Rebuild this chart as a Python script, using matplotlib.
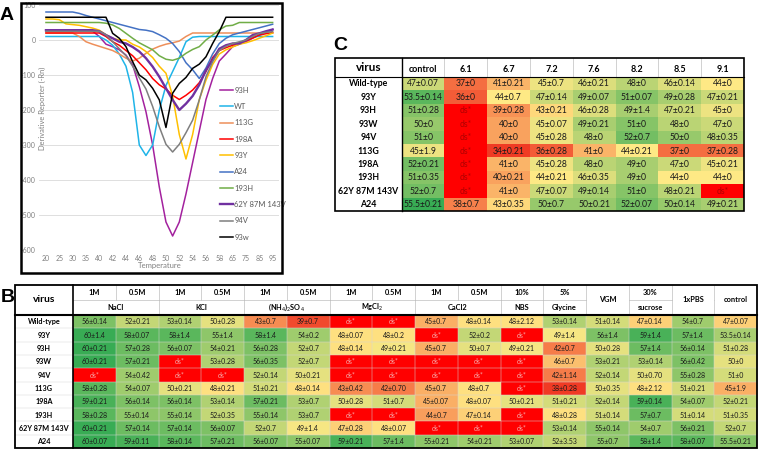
"""
Thermal shift figure: melt curves (A), buffer screen table (B), pH screen table (C)
"""

import numpy as np
import matplotlib
matplotlib.use("Agg")
import matplotlib.pyplot as plt
from matplotlib.colors import LinearSegmentedColormap, TwoSlopeNorm
from matplotlib.patches import Rectangle

W, H = 760, 450

# ---------------- Panel A data (one reading every half category step) ----------------
temp_labels = ['20', '25', '30', '35', '40', '42', '44', '46', '48', '50',
               '52', '54', '56', '58', '65', '75', '85', '95']

curve_93H = [25, 25, 25, 25, 25, 25, 25, 25, 10,
             -12, -19, -28, -43, -71, -133, -205, -300,
             -420, -520, -560, -520, -440, -350, -260, -170, -110, -60,
             -40, -19, -12, -5, 5, 14, 22, 30]
curve_WT = [10, 10, 10, 10, 10, 10, 10, 10, 10,
            0, -15, -40, -75, -150, -300, -330, -300,
            -200, -130, -90, -50, -5, 8, 10, 10, 10, 10,
            10, 10, 10, 10, 10, 10, 10, 10]
curve_113G = [20, 20, 20, 20, 20,
              10, -5, -12, -18, -24, -30, -40, -52, -60, -52, -38, -26, -18,
              -12, -8, -3, 10, 20,
              20, 20, 20, 20, 20, 20, 20, 20, 20, 20, 20, 20]
curve_198A = [20, 20, 20, 20, 20, 20, 20, 20, 20,
              10, -5, -15, -30, -45, -65, -85, -110, -128, -140, -158, -170,
              -158, -143, -122, -90, -50, -30, -22, -15, -8, -2, 6, 14, 18, 21]
curve_93Y = [60, 60, 58, 46, 44, 42, 38, 34, 28, 15, 5, 0, 0, -12, -20, -33,
             -50, -75, -95, -160, -270, -340, -270, -170, -115, -70, -40, -28,
             -20, -12, -8, -2, 5, 12, 20]
curve_A24 = [80, 80, 80, 80, 80, 76, 70, 65, 60, 55, 50, 45, 40, 35, 30, 28,
             24, 15, 5, -10, -33, -65, -85, -110, -80, -40, -10, 5, 15, 20,
             25, 30, 35, 40, 45]
curve_193H = [50, 50, 50, 50, 50, 50, 50, 50, 50,
              48, 43, 33, 19, 5, -8, -18, -28, -45, -55, -58, -52, -38, -27,
              -19, 0, 14, 29, 40, 42, 50,
              50, 50, 50, 50, 50]
curve_62Y = [28, 28, 28, 28, 28, 28, 28, 28, 25,
             14, 5, -5, -10, -20, -33, -52, -76, -105, -138, -171, -200, -182,
             -160, -128, -86, -57, -25, -15, -10, -10, 0, 14, 19, 25, 30]
curve_94V = [25, 25, 25, 25, 25, 25, 25, 25, 25,
             15, -5, -25, -45, -75, -108, -140, -190, -248, -298, -320, -298,
             -265, -229, -171, -105, -62, -30, -18, -10, -5, 0, 10, 19, 22, 24]
curve_93w = [65, 65, 65, 65, 65, 65, 65, 65, 65, 65,
             19, 5, -19, -62, -100, -114, -138, -171, -250, -152, -124, -107,
             -81, -69, -48, -10, 24,
             65, 65, 65, 65, 65, 65, 65, 65]

series_names = ['93H', 'WT', '113G', '198A', '93Y', 'A24', '193H',
                '62Y 87M 143V', '94V', '93w']
series_curves = [curve_93H, curve_WT, curve_113G, curve_198A, curve_93Y,
                 curve_A24, curve_193H, curve_62Y, curve_94V, curve_93w]
series_colors = ['#A3219E', '#1FB4E8', '#EE8F5A', '#FF0000', '#FFC000',
                 '#4472C4', '#70AD47', '#7030A0', '#7F7F7F', '#000000']

# ---------------- Panel B data ----------------
virus_rows = ['Wild-type', '93Y', '93H', '93W', '94V', '113G', '198A',
              '193H', '62Y 87M 143V', 'A24']
b_top = ['1M', '0.5M', '1M', '0.5M', '1M', '0.5M', '1M', '0.5M', '1M', '0.5M',
         '10%', '5%', 'VGM', '30%', '1xPBS', 'control']
# (label, span); None means the top label covers both header rows
b_bottom = [('NaCl', 2), ('KCl', 2), ('(NH$_4$)$_2$SO$_4$', 2), ('MgCl$_2$', 2),
            ('CaCl2', 2), ('NBS', 1), ('Glycine', 1), (None, 1), ('sucrose', 1),
            (None, 1), (None, 1)]
b_cells = [
    ['56±0.14', '52±0.21', '53±0.14', '50±0.28', '43±0.7', '39±0.7', 'ds*', 'ds*',
     '45±0.7', '48±0.14', '48±2.12', '53±0.14', '51±0.14', '47±0.14', '54±0.7', '47±0.07'],
    ['60±1.4', '58±0.07', '58±1.4', '55±1.4', '58±1.4', '54±0.2', '48±0.07', '48±0.2',
     'ds*', '52±0.2', 'ds*', '49±1.4', '56±1.4', '59±1.4', '57±1.4', '53.5±0.14'],
    ['60±0.21', '57±0.28', '56±0.07', '54±0.21', '56±0.28', '52±0.7', '48±0.14', '49±0.21',
     '45±0.7', '50±0.7', '49±0.21', '42±0.7', '50±0.28', '57±1.4', '56±0.14', '51±0.28'],
    ['60±0.21', '57±0.21', 'ds*', '53±0.28', '56±0.35', '52±0.7', 'ds*', 'ds*',
     'ds*', 'ds*', 'ds*', '46±0.7', '53±0.21', '53±0.14', '56±0.42', '50±0'],
    ['ds*', '54±0.42', 'ds*', 'ds*', '52±0.14', '50±0.21', 'ds*', 'ds*',
     'ds*', 'ds*', 'ds*', '42±1.14', '52±0.14', '50±0.70', '55±0.28', '51±0'],
    ['58±0.28', '54±0.07', '50±0.21', '48±0.21', '51±0.21', '48±0.14', '43±0.42', '42±0.70',
     '45±0.7', '48±0.7', 'ds*', '38±0.28', '50±0.35', '48±2.12', '51±0.21', '45±1.9'],
    ['59±0.21', '56±0.14', '56±0.14', '53±0.14', '57±0.21', '53±0.7', '50±0.28', '51±0.7',
     '45±0.07', '48±0.07', '50±0.21', '51±0.21', '52±0.14', '59±0.14', '54±0.07', '52±0.21'],
    ['58±0.28', '55±0.14', '55±0.14', '52±0.35', '55±0.14', '53±0.7', 'ds*', 'ds*',
     '44±0.7', '47±0.14', 'ds*', '48±0.28', '51±0.14', '57±0.7', '51±0.14', '51±0.35'],
    ['60±0.21', '57±0.14', '57±0.14', '56±0.07', '52±0.7', '49±1.4', '47±0.28', '48±0.07',
     'ds*', 'ds*', 'ds*', '53±0.14', '55±0.14', '54±0.7', '56±0.21', '52±0.7'],
    ['60±0.07', '59±0.11', '58±0.14', '57±0.21', '56±0.07', '55±0.07', '59±0.21', '57±1.4',
     '55±0.21', '54±0.21', '53±0.07', '52±3.53', '55±0.7', '58±1.4', '58±0.07', '55.5±0.21'],
]

# ---------------- Panel C data ----------------
c_cols = ['control', '6.1', '6.7', '7.2', '7.6', '8.2', '8.5', '9.1']
c_cells = [
    ['47±0.07', '37±0', '41±0.21', '45±0.7', '46±0.21', '48±0', '46±0.14', '44±0'],
    ['53.5±0.14', '36±0', '44±0.7', '47±0.14', '49±0.07', '51±0.07', '49±0.28', '47±0.21'],
    ['51±0.28', 'ds*', '39±0.28', '43±0.21', '46±0.28', '49±1.4', '47±0.21', '45±0'],
    ['50±0', 'ds*', '40±0', '45±0.07', '49±0.21', '51±0', '48±0', '47±0'],
    ['51±0', 'ds*', '40±0', '45±0.28', '48±0', '52±0.7', '50±0', '48±0.35'],
    ['45±1.9', 'ds*', '34±0.21', '36±0.28', '41±0', '44±0.21', '37±0', '37±0.28'],
    ['52±0.21', 'ds*', '41±0', '45±0.28', '48±0', '49±0', '47±0', '45±0.21'],
    ['51±0.35', 'ds*', '40±0.21', '44±0.21', '46±0.35', '49±0', '44±0', '44±0'],
    ['52±0.7', 'ds*', '41±0', '47±0.07', '49±0.14', '51±0', '48±0.21', 'ds*'],
    ['55.5±0.21', '38±0.7', '43±0.35', '50±0.7', '50±0.21', '52±0.07', '50±0.14', '49±0.21'],
]

heat_cmap = LinearSegmentedColormap.from_list('ryg', ['#F03A24', '#FFE985', '#38AC54'])


def cell_mean(txt):
    return float(txt.split('±')[0])


def px_axes(fig, x0, y0, x1, y1):
    """Axes placed by pixel box (top-left origin)"""
    return fig.add_axes([x0 / W, 1 - y1 / H, (x1 - x0) / W, (y1 - y0) / H])


def plot_melt_curves(fig):
    ax = px_axes(fig, 39.3, 5, 279.3, 250)
    x = np.arange(len(curve_93H)) / 2  # half category steps
    for name, ys, color in zip(series_names, series_curves, series_colors):
        lw = 1.7 if name.startswith('62Y') else 1.1
        ax.plot(x, ys, color=color, lw=lw, label=name, zorder=3)
    ax.set_xlim(-0.5, len(temp_labels) - 0.5)
    ax.set_ylim(-600, 100)
    ax.set_xticks(np.arange(len(temp_labels)))
    ax.set_xticklabels(temp_labels)
    ax.set_yticks(np.arange(-600, 101, 100))
    ax.tick_params(length=0, labelsize=5, labelcolor='#808080')
    ax.tick_params(axis='y', pad=2.5)
    ax.tick_params(axis='x', pad=3.5)
    ax.grid(axis='y', color='#D9D9D9', lw=0.6)
    ax.set_axisbelow(True)
    for s in ax.spines.values():
        s.set_visible(False)
    ax.set_xlabel('Temperature', fontsize=5.6, color='#808080', labelpad=0)
    ax.set_ylabel('Derivative Reporter (-Rn)', fontsize=5.4, color='#808080')
    ax.yaxis.set_label_coords(0.03, 0.58)
    ax.legend(loc='upper left', bbox_to_anchor=(216 / W, 1 - 83 / H),
              bbox_transform=fig.transFigure, frameon=False, fontsize=5.5,
              labelcolor='#595959', handlelength=1.7, handletextpad=0.2,
              labelspacing=1.22, borderpad=0)


def draw_cells(ov, cells, x_edges, y_edges, norm, size, ds_color):
    for i, row in enumerate(cells):
        for j, txt in enumerate(row):
            x0, x1 = x_edges[j], x_edges[j + 1]
            y0, y1 = y_edges[i], y_edges[i + 1]
            if txt == 'ds*':
                face, tcol = '#FF0000', ds_color
            else:
                face, tcol = heat_cmap(norm(cell_mean(txt))), '#1A1A1A'
            ov.add_patch(Rectangle((x0, y0), x1 - x0, y1 - y0, facecolor=face,
                                   edgecolor='none', zorder=1))
            ov.text((x0 + x1) / 2, (y0 + y1) / 2 + 0.3, txt, ha='center', va='center',
                    fontsize=size, color=tcol, zorder=3)


def draw_table_c(ov):
    left, vir_right, right = 335, 401.7, 744
    top, head_bot, bottom = 58, 77, 211
    x_edges = np.linspace(vir_right, right, len(c_cols) + 1)
    y_edges = np.linspace(head_bot, bottom, len(virus_rows) + 1)
    norm = TwoSlopeNorm(vmin=34, vcenter=44, vmax=55.5)
    draw_cells(ov, c_cells, x_edges, y_edges, norm, 6.2, '#B00000')

    ov.text((left + vir_right) / 2, (top + head_bot) / 2, 'virus', ha='center',
            va='center', fontsize=8.5, fontweight='bold')
    for j, lab in enumerate(c_cols):
        ov.text((x_edges[j] + x_edges[j + 1]) / 2, 70, lab, ha='center', va='center',
                fontsize=6.5, fontweight='bold')
        if j > 0:
            ov.plot([x_edges[j]] * 2, [top, head_bot], color='#BFBFBF', lw=0.5)
    for i, lab in enumerate(virus_rows):
        ov.text((left + vir_right) / 2, (y_edges[i] + y_edges[i + 1]) / 2 + 0.3, lab,
                ha='center', va='center', fontsize=6.3, fontweight='bold')

    ov.plot([left, right], [head_bot, head_bot], color='black', lw=0.8, zorder=4)
    ov.plot([vir_right, vir_right], [top, bottom], color='black', lw=1.0, zorder=4)
    ov.add_patch(Rectangle((left, top), right - left, bottom - top, fill=False,
                           edgecolor='black', lw=1.2, zorder=5))


def draw_table_b(ov):
    left, vir_right, right = 15, 73, 757
    top, mid, head_bot, bottom = 285, 300, 315, 448
    x_edges = np.linspace(vir_right, right, len(b_top) + 1)
    y_edges = np.linspace(head_bot, bottom, len(virus_rows) + 1)
    norm = TwoSlopeNorm(vmin=38, vcenter=48.5, vmax=60)
    draw_cells(ov, b_cells, x_edges, y_edges, norm, 5.0, '#F7A8A8')

    # faint cell grid
    for y in y_edges[1:-1]:
        ov.plot([left, right], [y, y], color='#D6D6D6', lw=0.35, zorder=2)
    for x in x_edges[1:-1]:
        ov.plot([x, x], [head_bot, bottom], color='#D6D6D6', lw=0.35, zorder=2)

    ov.text((left + vir_right) / 2, (top + head_bot) / 2, 'virus', ha='center',
            va='center', fontsize=7.5, fontweight='bold')

    # header rows
    spanned = set()
    j = 0
    for lab, span in b_bottom:
        x0, x1 = x_edges[j], x_edges[j + span]
        if lab is None:
            spanned.add(j)
        else:
            ov.text((x0 + x1) / 2, (mid + head_bot) / 2, lab, ha='center', va='center',
                    fontsize=5.3, fontweight='bold')
            ov.plot([x0, x1], [mid, mid], color='#BFBFBF', lw=0.5)
        if j > 0:
            ov.plot([x0, x0], [mid, head_bot], color='#BFBFBF', lw=0.5)
        j += span
    for j, lab in enumerate(b_top):
        ycen = (top + head_bot) / 2 if j in spanned else (top + mid) / 2
        ov.text((x_edges[j] + x_edges[j + 1]) / 2, ycen, lab, ha='center', va='center',
                fontsize=5.3, fontweight='bold')
        if j > 0:
            ov.plot([x_edges[j]] * 2, [top, mid], color='#BFBFBF', lw=0.5)

    for i, lab in enumerate(virus_rows):
        ov.text((left + vir_right) / 2, (y_edges[i] + y_edges[i + 1]) / 2 + 0.3, lab,
                ha='center', va='center', fontsize=5.2, fontweight='bold')

    ov.plot([left, right], [head_bot, head_bot], color='black', lw=1.5, zorder=4)
    ov.plot([vir_right, vir_right], [top, bottom], color='black', lw=1.2, zorder=4)
    ov.add_patch(Rectangle((left, top), right - left, bottom - top, fill=False,
                           edgecolor='black', lw=1.3, zorder=5))


def main():
    plt.rcParams['font.family'] = ['Lato', 'DejaVu Sans']
    plt.rcParams['mathtext.fontset'] = 'custom'
    plt.rcParams['mathtext.rm'] = 'Lato'
    plt.rcParams['mathtext.it'] = 'Lato:italic'
    plt.rcParams['mathtext.bf'] = 'Lato:bold'
    plt.rcParams['axes.unicode_minus'] = False

    fig = plt.figure(figsize=(W / 100, H / 100), dpi=100)
    fig.patch.set_facecolor('white')

    plot_melt_curves(fig)

    ov = fig.add_axes([0, 0, 1, 1])
    ov.set_xlim(0, W)
    ov.set_ylim(H, 0)
    ov.axis('off')

    # frame around panel A
    ov.add_patch(Rectangle((21, 2.5), 261, 270, fill=False, edgecolor='black', lw=1.8))

    draw_table_c(ov)
    draw_table_b(ov)

    for lab, (x, y) in zip(['A', 'B', 'C'], [(7, 16), (8, 297), (340, 45)]):
        ov.text(x, y, lab, ha='center', va='center', fontsize=14, fontweight='bold',
                family='Liberation Sans')

    fig.savefig('out.png', dpi=100)
    plt.close(fig)


if __name__ == "__main__":
    main()
